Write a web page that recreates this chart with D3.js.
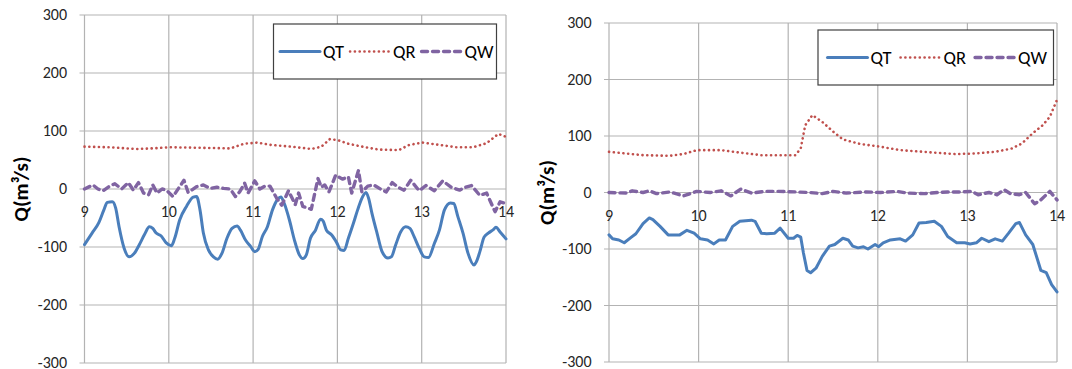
<!DOCTYPE html>
<html lang="en">
<head>
  <meta charset="UTF-8">
  <title>Q series</title>
  <script src="https://d3js.org/d3.v7.min.js"></script>
  <style>
    body { margin: 0; background: #fff; }
    svg text { font-family: Carlito, Calibri, "Open Sans", sans-serif; fill: #262626; }
  </style>
</head>
<body>
  <svg id="chart" width="1072" height="369"></svg>
  <script>
    // day ticks and value ticks
    var dayTicks = [9, 10, 11, 12, 13, 14];
    var qTicks = [-300, -200, -100, 0, 100, 200, 300];
    var seriesNames = ["QT", "QR", "QW"];

    // left panel
    var leftQtDay = [9.0, 9.09, 9.17, 9.23, 9.27, 9.33, 9.37, 9.41, 9.47, 9.53, 9.59, 9.65, 9.71, 9.77, 9.81, 9.85, 9.91, 9.97,
      10.03, 10.07, 10.13, 10.21, 10.29, 10.33, 10.37, 10.41, 10.47, 10.53, 10.58, 10.63, 10.69, 10.75, 10.81, 10.85, 10.91, 10.97,
      11.02, 11.06, 11.11, 11.17, 11.23, 11.29, 11.33, 11.37, 11.43, 11.49, 11.55, 11.59, 11.63, 11.68, 11.74, 11.80, 11.83, 11.87, 11.93, 11.99,
      12.04, 12.08, 12.13, 12.19, 12.24, 12.29, 12.34, 12.37, 12.41, 12.47, 12.53, 12.60, 12.64, 12.69, 12.75, 12.81, 12.86, 12.91, 12.97,
      13.03, 13.08, 13.15, 13.21, 13.27, 13.34, 13.38, 13.43, 13.49, 13.55, 13.62, 13.65, 13.69, 13.74, 13.79, 13.85, 13.88, 13.93, 14.0];
    var leftQt = [-96, -76, -58, -36, -23, -22, -33, -65, -102, -117, -111, -96, -79, -65, -68, -76, -81, -93,
      -98, -85, -53, -30, -14, -13, -36, -76, -105, -117, -121, -111, -85, -68, -64, -71, -88, -99,
      -108, -104, -82, -65, -36, -18, -14, -25, -53, -88, -114, -120, -114, -85, -71, -52, -55, -71, -79, -92,
      -105, -106, -85, -59, -36, -16, -6, -16, -42, -76, -108, -119, -117, -97, -74, -65, -68, -82, -102,
      -117, -118, -94, -71, -36, -24, -25, -48, -76, -111, -131, -125, -108, -83, -76, -70, -66, -74, -86];

    var leftQrDay = [9.0, 9.3, 9.61, 9.8, 10.01, 10.4, 10.73, 10.89, 11.05, 11.21, 11.45, 11.69, 11.81, 11.91, 12.01, 12.13,
      12.33, 12.49, 12.73, 12.85, 13.01, 13.21, 13.41, 13.61, 13.77, 13.91, 14.0];
    var leftQr = [73, 72, 69, 70, 72, 71, 70, 78, 80, 76, 73, 69, 73, 86, 84, 78,
      72, 68, 67, 76, 80, 76, 72, 72, 79, 95, 90];

    var leftQwDay = [9.0, 9.1, 9.16, 9.22, 9.3, 9.36, 9.44, 9.52, 9.58, 9.64, 9.7, 9.76, 9.81, 9.86, 9.92, 9.97,
      10.05, 10.18, 10.23, 10.33, 10.41, 10.49, 10.57, 10.65, 10.73, 10.79, 10.84, 10.9, 10.94,
      11.02, 11.08, 11.14, 11.2, 11.28, 11.34, 11.42, 11.5, 11.54, 11.59, 11.69, 11.77, 11.81, 11.85, 11.9, 11.98,
      12.06, 12.13, 12.17, 12.25, 12.29, 12.36, 12.43, 12.51, 12.58, 12.65, 12.72, 12.79, 12.87, 12.97,
      13.05, 13.15, 13.25, 13.35, 13.45, 13.52, 13.59, 13.69, 13.77, 13.87, 13.93, 14.0];
    var leftQw = [0, 7, 0, -3, 5, 9, 0, 11, -2, 11, -7, -10, 7, -7, 0, -2,
      -13, 15, -6, 4, 7, 1, 3, 1, 0, -13, -5, 10, -7,
      14, 0, 5, 5, -16, -28, -3, -27, -7, -30, -35, 18, 3, 7, -5, 24,
      17, 21, -7, 32, -5, 5, 7, 0, -5, 11, 3, -2, 15, -3,
      6, -3, 14, 3, -2, 3, 6, -11, -7, -39, -22, -25];

    // right panel
    var rightQtDay = [9.0, 9.04, 9.11, 9.17, 9.25, 9.30, 9.38, 9.45, 9.49, 9.57, 9.66, 9.79, 9.87, 9.95,
      10.02, 10.10, 10.17, 10.23, 10.30, 10.38, 10.46, 10.59, 10.63, 10.70, 10.76, 10.85, 10.91,
      11.0, 11.06, 11.10, 11.14, 11.17, 11.21, 11.25, 11.31, 11.38, 11.46, 11.52, 11.61, 11.67, 11.72, 11.78, 11.84, 11.89, 11.97,
      12.01, 12.06, 12.14, 12.25, 12.31, 12.39, 12.46, 12.54, 12.63, 12.71, 12.78, 12.88, 12.97,
      13.03, 13.10, 13.16, 13.24, 13.31, 13.39, 13.46, 13.54, 13.58, 13.65, 13.73, 13.82, 13.88, 13.94, 14.0];
    var rightQt = [-75, -82, -84, -89, -79, -73, -55, -45, -48, -60, -75, -75, -67, -72,
      -82, -84, -91, -84, -84, -60, -51, -49, -51, -72, -73, -72, -63,
      -81, -81, -76, -79, -107, -138, -142, -134, -113, -95, -92, -81, -84, -95, -98, -96, -100, -92,
      -96, -89, -84, -82, -86, -75, -54, -53, -51, -60, -78, -89, -89,
      -91, -89, -81, -87, -82, -86, -72, -55, -53, -75, -92, -138, -142, -163, -176];

    var rightQrDay = [9.0, 9.19, 9.38, 9.68, 9.83, 9.98, 10.25, 10.44, 10.70, 11.08, 11.14, 11.19, 11.27, 11.38, 11.50, 11.61,
      11.80, 12.03, 12.25, 12.59, 12.86, 13.08, 13.31, 13.50, 13.61, 13.73, 13.84, 13.92, 14.0];
    var rightQr = [72, 69, 66, 65, 68, 75, 75, 71, 66, 66, 78, 119, 137, 125, 108, 94,
      86, 81, 75, 71, 68, 69, 72, 78, 87, 105, 119, 134, 164];

    var rightQwDay = [9.0, 9.19, 9.26, 9.38, 9.45, 9.53, 9.68, 9.83, 9.98, 10.13, 10.25, 10.36, 10.47, 10.59, 10.74, 10.89,
      11.08, 11.23, 11.38, 11.50, 11.65, 11.87, 12.03, 12.21, 12.33, 12.52, 12.67, 12.78, 12.93,
      13.05, 13.12, 13.24, 13.33, 13.41, 13.48, 13.58, 13.65, 13.75, 13.82, 13.92, 14.0];
    var rightQw = [0, -1, 3, 0, 3, -2, 1, -6, 2, 0, 3, -6, 6, -1, 2, 2,
      1, 0, -2, 2, -1, 1, 0, 2, -1, -2, 0, 1, 1,
      2, -4, 0, -4, 5, -2, -4, 0, -20, -13, 2, -13];

    var svg = d3.select("#chart");

    var styles = {
      QT: { color: "#4a7ebb", width: 3, dash: null, cap: "round" },
      QR: { color: "#c0504d", width: 2.6, dash: "0.1 4.7", cap: "round" },
      QW: { color: "#8064a2", width: 3.4, dash: "6 5", cap: "round" }
    };

    function drawPanel(p, data) {
      var x = d3.scaleLinear().domain([9, 14]).range([p.left, p.right]);
      var y = d3.scaleLinear().domain([-300, 300]).range([p.bottom, p.top]);
      var g = svg.append("g");

      // grid
      g.selectAll(".hg").data(qTicks).enter().append("line")
        .attr("x1", p.left - 5).attr("x2", p.right)
        .attr("y1", function (d) { return y(d); }).attr("y2", function (d) { return y(d); })
        .attr("stroke", "#b3b3b3").attr("stroke-width", 1.2);
      g.selectAll(".vg").data(dayTicks).enter().append("line")
        .attr("x1", function (d) { return x(d); }).attr("x2", function (d) { return x(d); })
        .attr("y1", p.top).attr("y2", p.bottom)
        .attr("stroke", "#b3b3b3").attr("stroke-width", 1.2);

      // y tick labels
      g.selectAll(".yl").data(qTicks).enter().append("text")
        .attr("x", p.left - 17.5).attr("y", function (d) { return y(d); })
        .attr("dy", "0.33em").attr("text-anchor", "end")
        .style("font-size", "16px")
        .text(function (d) { return d; });

      // x tick labels sit under the zero line
      g.selectAll(".xl").data(dayTicks).enter().append("text")
        .attr("x", function (d) { return x(d); }).attr("y", y(0) + 23)
        .attr("dy", "0.33em").attr("text-anchor", "middle")
        .style("font-size", "16px")
        .text(function (d) { return d; });

      // y title
      g.append("text")
        .attr("transform", "translate(" + p.titleX + "," + y(0) + ")rotate(-90)")
        .attr("text-anchor", "middle").attr("dy", "0.35em")
        .style("font-size", "21px").style("font-weight", "bold").style("fill", "#000")
        .text("Q(m³/s)");

      // lines
      data.forEach(function (s) {
        var st = styles[s.name];
        var pts = d3.zip(s.day, s.q);
        g.append("path")
          .datum(pts)
          .attr("fill", "none")
          .attr("stroke", st.color)
          .attr("stroke-width", st.width)
          .attr("stroke-linecap", st.cap)
          .attr("stroke-linejoin", "round")
          .attr("stroke-dasharray", st.dash)
          .attr("d", d3.line()
            .curve(s.name == "QT" && p.smooth ? d3.curveMonotoneX : d3.curveLinear)
            .x(function (d) { return x(d[0]); })
            .y(function (d) { return y(d[1]); }));
      });

      // legend
      var lg = g.append("g").attr("transform", "translate(" + p.legX + "," + p.legY + ")");
      lg.append("rect").attr("width", p.legW).attr("height", 55)
        .attr("fill", "#fff").attr("stroke", "#404040").attr("stroke-width", 1.2);
      var cx = p.legPad;
      seriesNames.forEach(function (name) {
        var st = styles[name];
        lg.append("line")
          .attr("x1", cx).attr("x2", cx + 40).attr("y1", 27.5).attr("y2", 27.5)
          .attr("stroke", st.color).attr("stroke-width", st.width)
          .attr("stroke-linecap", st.cap).attr("stroke-dasharray", st.dash);
        var t = lg.append("text")
          .attr("x", cx + 43).attr("y", 27.5).attr("dy", "0.35em")
          .style("font-size", "18.5px").style("fill", "#000")
          .text(name);
        cx = cx + 43 + t.node().getComputedTextLength() + p.legGap;
      });
    }

    drawPanel(
      { left: 84.5, right: 506, top: 15, bottom: 363, titleX: 21, smooth: true,
        legX: 273.5, legY: 24, legW: 223, legPad: 6.5, legGap: 6 },
      [{ name: "QT", day: leftQtDay, q: leftQt },
       { name: "QR", day: leftQrDay, q: leftQr },
       { name: "QW", day: leftQwDay, q: leftQw }]
    );

    drawPanel(
      { left: 609, right: 1057, top: 23, bottom: 362, titleX: 547, smooth: false,
        legX: 818, legY: 30, legW: 235.5, legPad: 9.5, legGap: 9 },
      [{ name: "QT", day: rightQtDay, q: rightQt },
       { name: "QR", day: rightQrDay, q: rightQr },
       { name: "QW", day: rightQwDay, q: rightQw }]
    );
  </script>
</body>
</html>
